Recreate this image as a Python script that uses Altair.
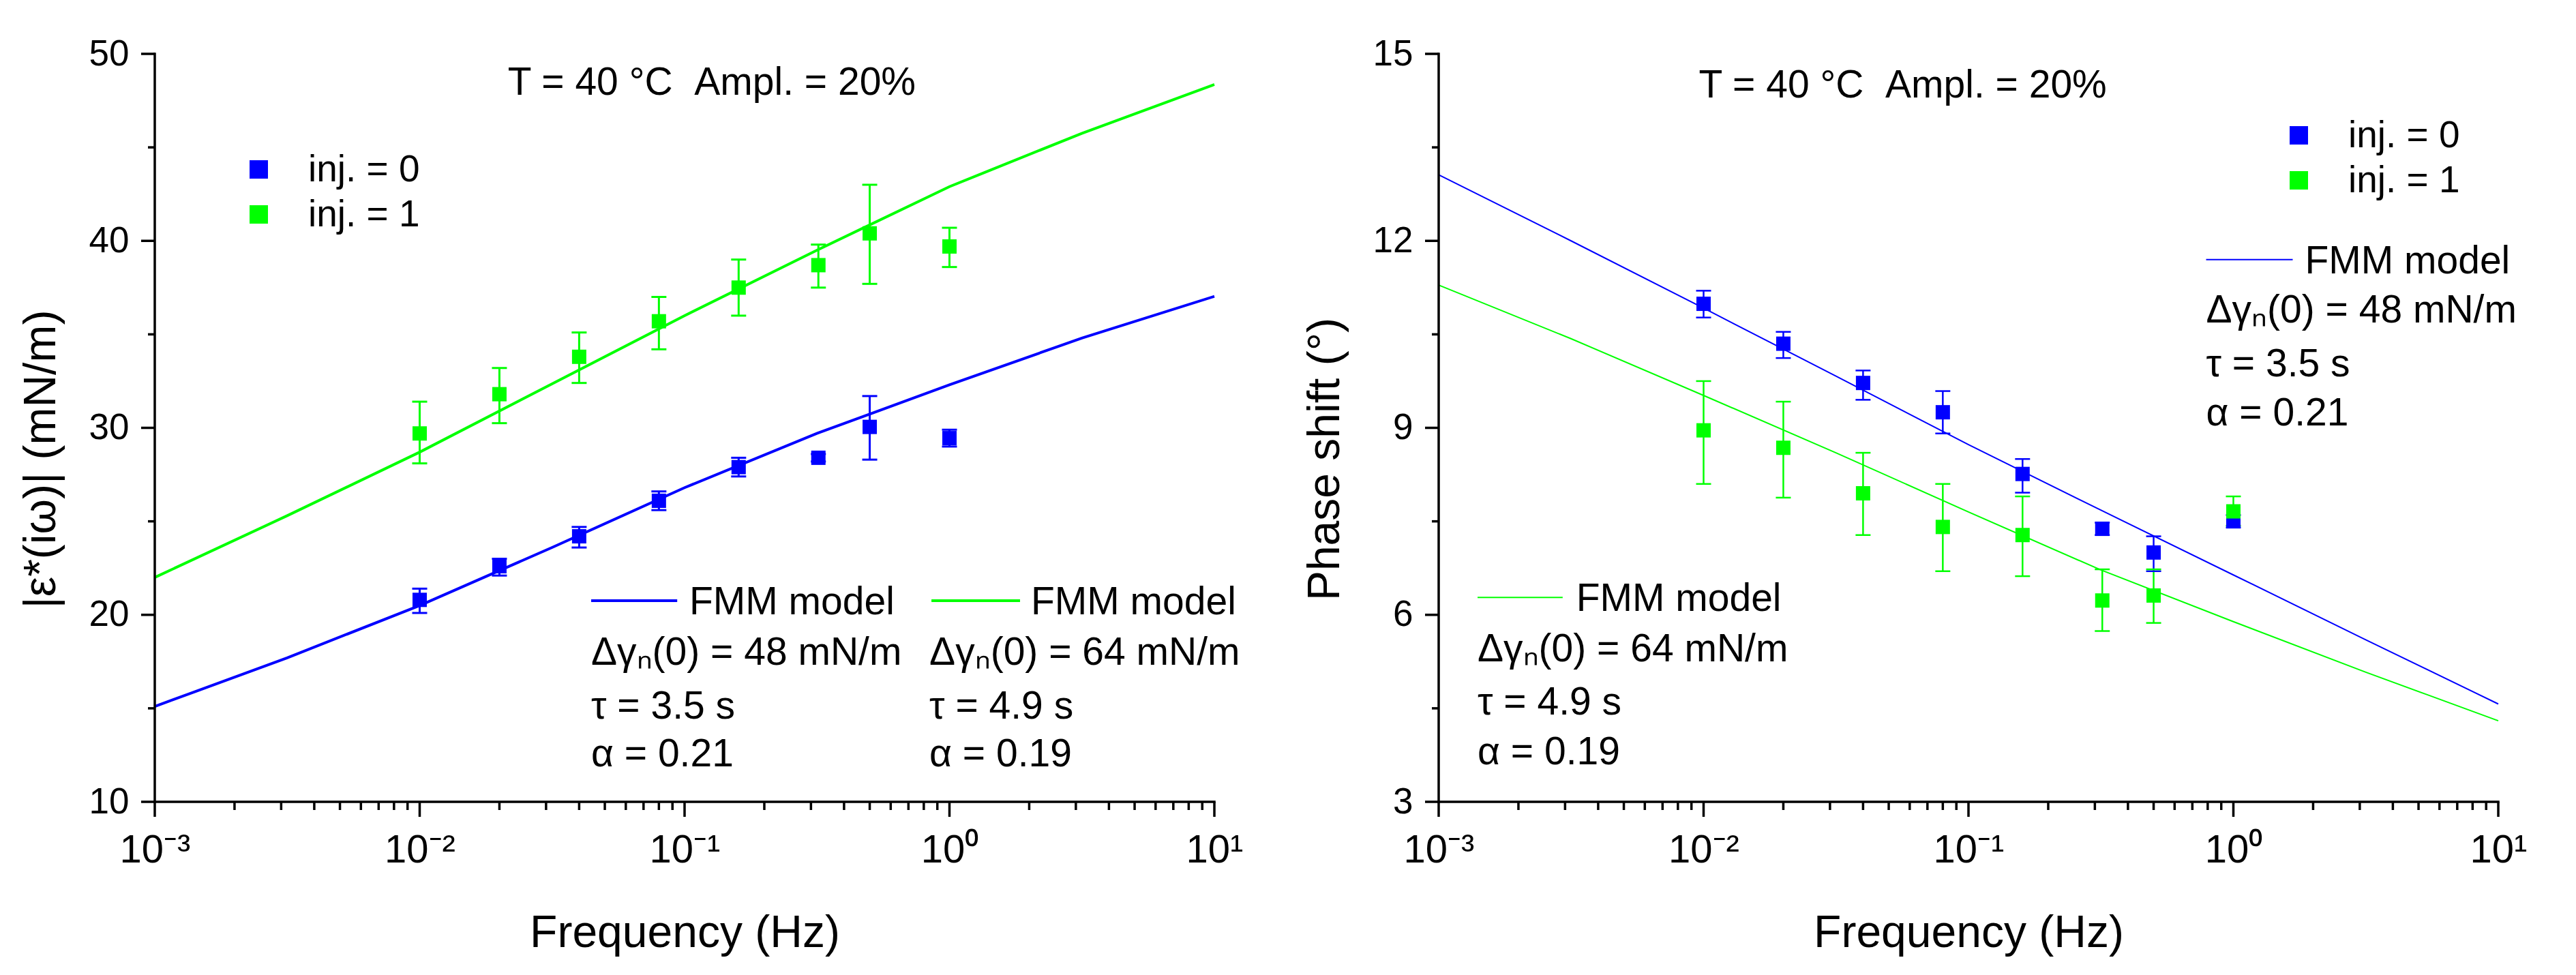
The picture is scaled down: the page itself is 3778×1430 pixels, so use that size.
import altair as alt
import pandas as pd

# ── measured data ─────────────────────────────────────────────────────────────

FREQ = [0.01, 0.02, 0.04, 0.08, 0.16, 0.32, 0.5, 1.0]
SERIES = ['inj. = 0', 'inj. = 1']
COLORS = ['#0000ff', '#00ff00']

# modulus |e*(iw)| (mN/m)
MOD_INJ0 = [20.8, 22.6, 24.2, 26.1, 27.9, 28.4, 30.05, 29.45]
MOD_INJ0_LO = [20.1, 22.1, 23.6, 25.6, 27.4, 28.2, 28.3, 29.0]
MOD_INJ0_HI = [21.4, 23.0, 24.7, 26.6, 28.4, 28.6, 31.7, 29.9]
MOD_INJ1 = [29.7, 31.8, 33.8, 35.7, 37.5, 38.7, 40.4, 39.7]
MOD_INJ1_LO = [28.1, 30.25, 32.4, 34.2, 36.0, 37.5, 37.7, 38.6]
MOD_INJ1_HI = [31.4, 33.2, 35.1, 37.0, 39.0, 39.8, 43.0, 40.7]

# phase shift (deg)
PH_INJ0 = [10.99, 10.35, 9.72, 9.25, 8.26, 7.38, 7.0, 7.5]
PH_INJ0_LO = [10.77, 10.12, 9.45, 8.91, 7.96, 7.28, 6.7, 7.4]
PH_INJ0_HI = [11.2, 10.54, 9.92, 9.59, 8.5, 7.48, 7.26, 7.6]
PH_INJ1 = [8.96, 8.68, 7.95, 7.41, 7.28, 6.23, 6.31, 7.66]
PH_INJ1_LO = [8.1, 7.88, 7.28, 6.7, 6.62, 5.74, 5.87, 7.43]
PH_INJ1_HI = [9.75, 9.42, 8.6, 8.1, 7.9, 6.73, 6.73, 7.9]

# FMM model curves, read at half decades
FIT_FREQ = [0.001, 0.00316, 0.01, 0.0316, 0.1, 0.316, 1.0, 3.16, 10.0]
MOD_FIT0 = [15.1, 17.7, 20.5, 23.6, 26.8, 29.7, 32.3, 34.8, 37.03]
MOD_FIT1 = [22.0, 25.3, 28.7, 32.35, 36.0, 39.5, 42.9, 45.75, 48.36]
PH_FIT0 = [13.06, 12.0, 10.92, 9.83, 8.73, 7.68, 6.64, 5.6, 4.57]
PH_FIT1 = [11.29, 10.43, 9.52, 8.6, 7.65, 6.72, 5.89, 5.08, 4.3]

TITLE = 'T = 40 °C\u00a0\u00a0Ampl. = 20%'
PARAMS0 = ['Δγₙ(0) = 48 mN/m', 'τ = 3.5 s', 'α = 0.21']
PARAMS1 = ['Δγₙ(0) = 64 mN/m', 'τ = 4.9 s', 'α = 0.19']

FONT = 'Liberation Sans'
W, H = 1554, 1097

X_MAJOR = [0.001, 0.01, 0.1, 1.0, 10.0]
X_MINOR = [k * d for d in X_MAJOR[:-1] for k in range(2, 10)]
SUP = "['⁻³', '⁻²', '⁻¹', '⁰', '¹'][round(log(datum.value)/LN10) + 3]"
TICK_W = 3.5


# ── data helpers ──────────────────────────────────────────────────────────────

def points_frame(values, lows, highs):
    rows = []
    for name, v, lo, hi in zip(SERIES, values, lows, highs):
        for f, a, b, c in zip(FREQ, v, lo, hi):
            rows.append(dict(freq=f, value=a, lo=b, hi=c, series=name))
    return pd.DataFrame(rows)


def fit_frame(fits):
    rows = []
    for color, fit in zip(COLORS, fits):
        for f, v in zip(FIT_FREQ, fit):
            rows.append(dict(freq=f, value=v, color=color))
    return pd.DataFrame(rows)


def notes_frame(blocks):
    """blocks: (line_f1, line_f2, line_y, text_f, text_y, param_f, param_ys, params, color)"""
    samples, texts = [], []
    for f1, f2, ly, tf, ty, pf, pys, params, color in blocks:
        samples.append(dict(freq=f1, f2=f2, value=ly, color=color))
        texts.append(dict(freq=tf, value=ty, text='FMM model'))
        for y, t in zip(pys, params):
            texts.append(dict(freq=pf, value=y, text=t))
    return pd.DataFrame(samples), pd.DataFrame(texts)


# ── chart helper ──────────────────────────────────────────────────────────────

def panel(pts, fits, blocks, title_at, ydom, ymajor, yminor, ytitle,
          legend_xy, line_w, bar_w):
    xs = alt.Scale(type='log', domain=[0.001, 10], nice=False)
    ys = alt.Scale(domain=ydom, nice=False, zero=False)

    # axis lines and ticks are drawn as rule layers, the axes give labels and titles
    x_axis = alt.Axis(orient='bottom', values=X_MAJOR, labelExpr=f"'10' + {SUP}",
                      domain=False, ticks=False, labelFontSize=58,
                      labelPadding=42, labelFlush=False, labelOverlap=False,
                      title='Frequency (Hz)', titleFontSize=66, titleY=212,
                      titleBaseline='alphabetic')
    y_axis = alt.Axis(orient='left', values=ymajor, domain=False, ticks=False,
                      labelFontSize=53, labelPadding=38, labelOverlap=False,
                      format='d', title=ytitle, titleFontSize=66, titleX=-167,
                      titleY=594, titleBaseline='middle')

    def X(field='freq'):
        return alt.X(f'{field}:Q', scale=xs, axis=x_axis)

    def Y(field='value'):
        return alt.Y(f'{field}:Q', scale=ys, axis=y_axis)

    color = alt.Color('series:N', scale=alt.Scale(domain=SERIES, range=COLORS),
                      legend=alt.Legend(orient='none', legendX=legend_xy[0],
                                        legendY=legend_xy[1], title=None,
                                        symbolType='square', symbolSize=729,
                                        symbolStrokeWidth=0, symbolOpacity=1,
                                        labelFont=FONT, labelFontSize=55,
                                        labelLimit=0, labelOffset=45,
                                        rowPadding=10, labelColor='black'))
    stroke = alt.Stroke('series:N', scale=alt.Scale(domain=SERIES, range=COLORS),
                        legend=None)
    identity = alt.Stroke('color:N', scale=None)

    base = alt.Chart(pts)
    lines = alt.Chart(fits).mark_line(strokeWidth=line_w).encode(
        x=X(), y=Y(), stroke=identity, detail='color:N')
    bars = base.mark_rule(strokeWidth=bar_w).encode(
        x=X(), y=Y('lo'), y2='hi:Q', stroke=stroke)
    cap_lo = base.mark_rule(strokeWidth=bar_w, xOffset=-11, x2Offset=11).encode(
        x=X(), x2='freq:Q', y=Y('lo'), stroke=stroke)
    cap_hi = base.mark_rule(strokeWidth=bar_w, xOffset=-11, x2Offset=11).encode(
        x=X(), x2='freq:Q', y=Y('hi'), stroke=stroke)
    dots = base.mark_square(size=441, opacity=1).encode(x=X(), y=Y(), color=color)

    # frame: bottom and left axis lines
    frame = pd.DataFrame([dict(freq=0.001, f2=10.0, value=ydom[0], v2=ydom[1])])
    x_line = alt.Chart(frame).mark_rule(strokeWidth=TICK_W, color='black',
                                        strokeCap='square').encode(
        x=X(), x2='f2:Q', y=Y())
    y_line = alt.Chart(frame).mark_rule(strokeWidth=TICK_W, color='black',
                                        strokeCap='square').encode(
        x=X(), y=Y(), y2='v2:Q')

    # tick marks: major and minor, outside the frame
    def xticks(values, size):
        return alt.Chart(pd.DataFrame({'freq': values})).mark_rule(
            strokeWidth=TICK_W, color='black').encode(
            x=X(), y=alt.value(H), y2=alt.value(H + size))

    def yticks(values, size):
        return alt.Chart(pd.DataFrame({'value': values})).mark_rule(
            strokeWidth=TICK_W, color='black').encode(
            y=Y(), x=alt.value(0), x2=alt.value(-size))

    ticks = [x_line, y_line, xticks(X_MAJOR, 22), xticks(X_MINOR, 12),
             yticks(ymajor, 20), yticks(yminor, 10)]

    samples, texts = notes_frame(blocks)
    sample_lines = alt.Chart(samples).mark_rule(strokeWidth=line_w).encode(
        x=X(), x2='f2:Q', y=Y(), stroke=identity)
    notes = alt.Chart(texts).mark_text(align='left', baseline='alphabetic',
                                       font=FONT, fontSize=57, color='black').encode(
        x=X(), y=Y(), text='text:N')
    head = alt.Chart(pd.DataFrame([dict(freq=title_at[0], value=title_at[1],
                                        text=TITLE)])).mark_text(
        align='left', baseline='alphabetic', font=FONT, fontSize=57,
        color='black').encode(x=X(), y=Y(), text='text:N')

    return alt.layer(lines, *ticks, bars, cap_lo, cap_hi, dots, sample_lines,
                     notes, head).properties(width=W, height=H)


left = panel(
    points_frame([MOD_INJ0, MOD_INJ1], [MOD_INJ0_LO, MOD_INJ1_LO],
                 [MOD_INJ0_HI, MOD_INJ1_HI]),
    fit_frame([MOD_FIT0, MOD_FIT1]),
    [(0.0444, 0.0938, 20.76, 0.1042, 20.03, 0.0444, [17.33, 14.45, 11.9],
      PARAMS0, COLORS[0]),
     (0.855, 1.847, 20.76, 2.03, 20.03, 0.84, [17.33, 14.45, 11.9],
      PARAMS1, COLORS[1])],
    (0.0215, 47.8), [10, 50], [10, 20, 30, 40, 50], [15, 25, 35, 45],
    '|ε*(iω)| (mN/m)', (125, 142), 4, 3)

right = panel(
    points_frame([PH_INJ0, PH_INJ1], [PH_INJ0_LO, PH_INJ1_LO],
                 [PH_INJ0_HI, PH_INJ1_HI]),
    fit_frame([PH_FIT0, PH_FIT1]),
    [(0.789, 1.675, 11.70, 1.862, 11.48, 0.789, [10.69, 9.83, 9.04],
      PARAMS0, COLORS[0]),
     (0.001402, 0.002938, 6.28, 0.003304, 6.06, 0.001402, [5.25, 4.40, 3.60],
      PARAMS1, COLORS[1])],
    (0.00959, 14.295), [3, 15], [3, 6, 9, 12, 15], [4.5, 7.5, 10.5, 13.5],
    'Phase shift (°)', (1234, 92), 2, 2.5)

chart = (
    alt.hconcat(left, right, spacing=87)
    .resolve_legend(color='independent')
    .properties(padding={'left': 19, 'top': 45, 'right': 5, 'bottom': 5},
                background='white')
    .configure_view(stroke=None)
    .configure_axis(grid=False, labelColor='black', titleColor='black',
                    labelFont=FONT, titleFont=FONT, titleFontWeight='normal')
)

chart.save('out.html', embed_options={'renderer': 'svg', 'actions': False})
